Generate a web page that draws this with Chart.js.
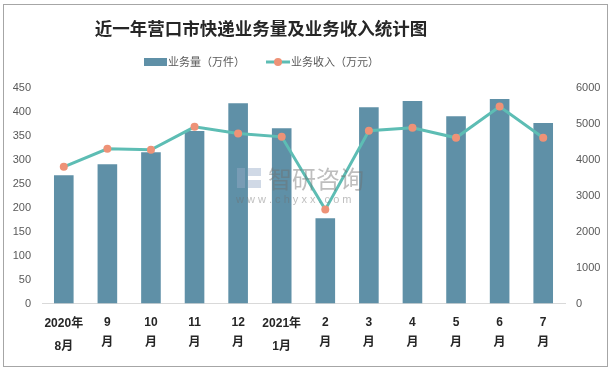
<!DOCTYPE html>
<html>
<head>
<meta charset="utf-8">
<script src="https://cdn.jsdelivr.net/npm/chart.js@4.4.0/dist/chart.umd.min.js"></script>
<style>
  html, body { margin: 0; padding: 0; background: #fff; }
</style>
</head>
<body>
<canvas id="chart" width="612" height="372"></canvas>
<script>
// chart data
const chartTitle = "近一年营口市快递业务量及业务收入统计图";
const months = [["2020年", "8月"], ["9", "月"], ["10", "月"], ["11", "月"], ["12", "月"], ["2021年", "1月"],
                ["2", "月"], ["3", "月"], ["4", "月"], ["5", "月"], ["6", "月"], ["7", "月"]];
const volume = [268, 291, 316, 360, 418, 366, 178, 410, 423, 391, 427, 377];
const revenue = [3804, 4306, 4278, 4919, 4733, 4640, 2614, 4808, 4891, 4613, 5485, 4613];
const volumeLabel = "业务量（万件）";
const revenueLabel = "业务收入（万元）";

const barColor = "#5f90a7";
const lineColor = "#5dbdb4";
const pointColor = "#ee9277";
const cjk = '"Liberation Sans", "Noto Sans CJK SC", sans-serif';

// frame, title, legend and watermark
const decor = {
  id: "decor",
  afterDatasetsDraw(chart) {
    const ctx = chart.ctx;
    ctx.save();
    // watermark
    ctx.fillStyle = "rgba(150, 170, 200, 0.45)";
    ctx.fillRect(237, 168, 8, 20);
    ctx.fillRect(248, 168, 13, 8);
    ctx.fillRect(248, 180, 13, 8);
    ctx.fillStyle = "rgba(110, 110, 110, 0.45)";
    ctx.font = '24px "Noto Sans CJK SC"';
    ctx.textBaseline = "middle";
    ctx.fillText("智研咨询", 268, 179);
    ctx.font = '11px "Liberation Sans"';
    ctx.fillText("w w w . c h y x x . c o m", 236, 200);
    ctx.restore();
  },
  afterDraw(chart) {
    const ctx = chart.ctx;
    ctx.save();
    ctx.strokeStyle = "#a6a6a6";
    ctx.lineWidth = 1;
    ctx.strokeRect(3.5, 4.5, 604, 362);

    ctx.fillStyle = "#262626";
    ctx.font = 'bold 17.5px "Noto Sans CJK SC"';
    ctx.textAlign = "center";
    ctx.textBaseline = "middle";
    ctx.fillText(chartTitle, 261, 28);

    // legend
    ctx.textAlign = "left";
    ctx.font = '11px "Noto Sans CJK SC"';
    ctx.fillStyle = barColor;
    ctx.fillRect(144, 58, 23, 8);
    ctx.fillStyle = "#595959";
    ctx.fillText(volumeLabel, 168, 62);
    ctx.strokeStyle = lineColor;
    ctx.lineWidth = 3;
    ctx.beginPath();
    ctx.moveTo(266, 62);
    ctx.lineTo(290, 62);
    ctx.stroke();
    ctx.fillStyle = pointColor;
    ctx.beginPath();
    ctx.arc(278, 62, 4, 0, Math.PI * 2);
    ctx.fill();
    ctx.fillStyle = "#595959";
    ctx.fillText(revenueLabel, 291, 62);
    ctx.restore();
  }
};

new Chart(document.getElementById("chart"), {
  type: "bar",
  data: {
    labels: months,
    datasets: [
      {
        type: "line",
        label: revenueLabel,
        data: revenue,
        yAxisID: "y1",
        borderColor: lineColor,
        borderWidth: 3,
        pointRadius: 4,
        pointBackgroundColor: pointColor,
        pointBorderWidth: 0,
        tension: 0,
        order: 0,
      },
      {
        label: volumeLabel,
        data: volume,
        yAxisID: "y",
        backgroundColor: barColor,
        barPercentage: 0.45,
        categoryPercentage: 1,
        order: 1,
      },
    ],
  },
  options: {
    responsive: false,
    animation: false,
    layout: { padding: { top: 88, bottom: 8.5, left: 0, right: 0 } },
    plugins: {
      legend: { display: false },
      title: { display: false },
      tooltip: { enabled: false },
    },
    scales: {
      x: {
        grid: { display: false, drawTicks: false },
        border: { display: true, color: "#d9d9d9" },
        ticks: {
          maxRotation: 0,
          autoSkip: false,
          padding: 9,
          color: "#262626",
          font: ctx => ({
            family: cjk, size: 12, weight: "bold",
            lineHeight: (ctx.index === 0 || ctx.index === 5) ? "23px" : "20px",
          }),
        },
        afterFit: scale => { scale.height = 60; },
      },
      y: {
        position: "left",
        min: 0,
        max: 450,
        grid: { display: false, drawTicks: false },
        border: { display: false },
        ticks: { stepSize: 50, padding: 11, color: "#595959", font: { family: cjk, size: 11 },
                 callback: v => String(v) },
        afterFit: scale => { scale.width = 42; },
      },
      y1: {
        position: "right",
        min: 0,
        max: 6000,
        grid: { display: false, drawTicks: false },
        border: { display: false },
        ticks: { stepSize: 1000, padding: 11, color: "#595959", font: { family: cjk, size: 11 },
                 callback: v => String(v) },
        afterFit: scale => { scale.width = 47; },
      },
    },
  },
  plugins: [decor],
});
</script>
</body>
</html>
